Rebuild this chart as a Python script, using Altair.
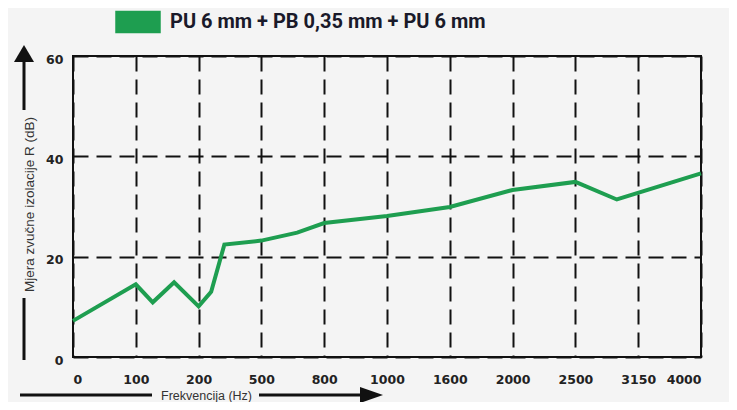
import altair as alt
import pandas as pd

# positions along the equally spaced frequency axis (index of tick)
positions = [0, 1, 1.27, 1.61, 2, 2.2, 2.41, 3, 3.57, 4, 5, 6, 7, 8, 8.66, 10]
values = [7.2, 14.5, 10.9, 14.9, 10.1, 13.0, 22.4, 23.2, 24.8, 26.7, 28.1, 29.9, 33.3, 34.9, 31.4, 36.6]
tick_labels = ["0", "100", "200", "500", "800", "1000", "1600", "2000", "2500", "3150", "4000"]
y_ticks = [0, 20, 40, 60]
series_name = "PU 6 mm + PB 0,35 mm + PU 6 mm"

GREEN = "#1e9e50"
INK = "#111111"

df = pd.DataFrame({"pos": positions, "R": values, "serija": [series_name] * len(values)})
one = pd.DataFrame({"a": [0]})

label_expr = "[" + ",".join("'" + t + "'" for t in tick_labels) + "][datum.value]"

line = alt.Chart(df).mark_line(strokeWidth=4, strokeJoin="miter").encode(
    x=alt.X(
        "pos:Q",
        scale=alt.Scale(domain=[0, 10], nice=False, zero=False),
        axis=alt.Axis(
            values=list(range(len(tick_labels))),
            labelExpr=label_expr,
            title="Frekvencija (Hz)",
            titleX=133, titleY=38, titleAlign="center", titleBaseline="middle",
            titleFont="Liberation Sans", titleFontSize=12.5, titleFontWeight="normal",
            titleColor="#333333",
            domain=False, ticks=False, labelPadding=16,
            labelFont="DejaVu Sans", labelFontSize=12.5, labelFontWeight="bold",
            labelColor="#222222", labelBaseline="top",
            grid=True, gridColor=INK, gridDash=[15, 8], gridWidth=2,
        ),
    ),
    y=alt.Y(
        "R:Q",
        scale=alt.Scale(domain=[0, 60], nice=False),
        axis=alt.Axis(
            values=y_ticks,
            title="Mjera zvučne izolacije R (dB)",
            titleX=-44, titleY=148, titleAngle=270, titleAlign="center", titleBaseline="middle",
            titleFont="Liberation Sans", titleFontSize=13.5, titleFontWeight="normal",
            titleColor="#333333",
            domain=False, ticks=False, labelPadding=10,
            labelFont="DejaVu Sans", labelFontSize=12.5, labelFontWeight="bold",
            labelColor="#222222", labelBaseline="middle", labelOffset=3,
            grid=True, gridColor=INK, gridDash=[15, 8], gridWidth=2,
        ),
    ),
    color=alt.Color(
        "serija:N",
        scale=alt.Scale(domain=[series_name], range=[GREEN]),
        legend=alt.Legend(
            title=None, orient="none", legendX=42, legendY=-57,
            symbolType="M-1,-0.48H1V0.48H-1Z", symbolSize=1936,
            symbolFillColor=GREEN, symbolStrokeColor="#222222", symbolStrokeWidth=1.5,
            symbolOpacity=1,
            labelFont="Roboto", labelFontSize=20, labelFontWeight="bold",
            labelColor="#1a1a2a", labelOffset=9, labelLimit=500, padding=0,
        ),
    ),
)

rule_base = alt.Chart(one)
arrows = [
    rule_base.mark_rule(color=INK, strokeWidth=3).encode(x=alt.value(-49), y=alt.value(5), y2=alt.value(54)),
    rule_base.mark_rule(color=INK, strokeWidth=3).encode(x=alt.value(-49), y=alt.value(242), y2=alt.value(304)),
    rule_base.mark_point(shape="M0,-0.85L1,0.85L-1,0.85Z", filled=True, size=400, color=INK, opacity=1).encode(
        x=alt.value(-49), y=alt.value(-2.5)),
    rule_base.mark_rule(color=INK, strokeWidth=3).encode(x=alt.value(-53), x2=alt.value(79), y=alt.value(339)),
    rule_base.mark_rule(color=INK, strokeWidth=3).encode(x=alt.value(186), x2=alt.value(290), y=alt.value(339)),
    rule_base.mark_point(shape="M1,0L-1,-0.7L-1,0.7Z", filled=True, size=529, color=INK, opacity=1).encode(
        x=alt.value(298.5), y=alt.value(339)),
]

chart = alt.layer(line, *arrows).properties(
    width=628, height=301,
    autosize=alt.AutoSizeParams(type="none"),
    padding={"left": 65, "top": 48, "right": 28, "bottom": 45},
    background="#f4f4f4",
).configure_view(stroke=INK, strokeWidth=2)

chart.save("out.html", embed_options={"renderer": "svg", "actions": False})
